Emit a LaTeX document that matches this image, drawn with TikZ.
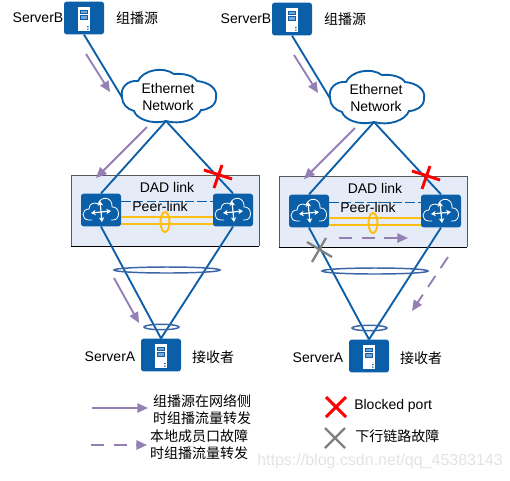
\documentclass[tikz,border=0pt]{standalone}
\usepackage{fontspec}
\setmainfont{Liberation Sans}
\newfontfamily\cjk{Noto Sans CJK SC}
\usetikzlibrary{arrows.meta}
\definecolor{hwblue}{HTML}{0A5FA8}
\definecolor{flow}{HTML}{9480B4}
\definecolor{panelfill}{HTML}{E6ECF7}
\definecolor{gold}{HTML}{FFBE14}
\definecolor{ringblue}{HTML}{3A66A8}
\definecolor{markgray}{HTML}{808080}
\definecolor{wm}{HTML}{E4E4E4}
\tikzset{
  x=0.75pt,y=-0.75pt,
  every node/.style={font=\fontsize{10.5}{12}\selectfont,text=black,inner sep=0pt},
  devbox/.style={fill=hwblue,rounded corners=2pt,minimum width=30pt,minimum height=24.5pt},
  link/.style={draw=hwblue,line width=1.4pt},
  flowline/.style={draw=flow,line width=1.4pt,-{Triangle[length=8pt,width=7pt]}},
  flowdash/.style={flowline,dash pattern=on 10pt off 7pt},
  cloudline/.style={draw=hwblue,fill=white,line width=1.4pt},
  ring/.style={draw=ringblue,line width=1.1pt},
  goldline/.style={draw=gold,line width=2.2pt},
  redmark/.style={draw=red,line width=2.2pt},
  graymark/.style={draw=markgray,line width=1.7pt},
  iconw/.style={draw=white,line width=0.6pt},
  iconarrow/.style={draw=white,line width=0.9pt,{Stealth[length=3.5pt,width=4pt]}-{Stealth[length=3.5pt,width=4pt]}},
}
\newcommand{\servericon}[1]{%
  \fill[white] ([shift={(-6,-11)}]#1.center) rectangle ([shift={(6,13)}]#1.center);
  \draw[hwblue,line width=0.6pt,fill=panelfill!50!hwblue]
    ([shift={(-3.5,-8)}]#1.center) rectangle ([shift={(3.5,-4.5)}]#1.center)
    ([shift={(-3.5,-2.5)}]#1.center) rectangle ([shift={(3.5,1)}]#1.center);
  \fill[hwblue] ([shift={(3,8)}]#1.center) rectangle ([shift={(4.5,9)}]#1.center)
    ([shift={(3,10.5)}]#1.center) rectangle ([shift={(4.5,11.5)}]#1.center);
}
\newcommand{\switchicon}[1]{%
  \begin{scope}[shift={(#1.center)}]
    \draw[iconw] (-9,10) -- (-12,10) .. controls (-20,10) and (-20,-1) .. (-12,-1)
      .. controls (-12,-7) and (-6,-8) .. (-3,-6) .. controls (0,-15) and (12,-13) .. (11,-3)
      .. controls (19,-4) and (20,10) .. (12,10) -- (10,10);
    \draw[iconarrow] (-10,3) -- (10,1);
    \draw[iconarrow] (-1,-9) -- (1,12);
  \end{scope}
}
\newcommand{\crossmark}[3]{%
  \draw[#1] ([shift={(-13,-6)}]#2) -- ([shift={(15,3)}]#2);
  \draw[#1] ([shift={(-3,12)}]#2) -- ([shift={(5,-11)}]#2);
}
\newcommand{\halfpic}{%
  \fill[panelfill] (71,175) rectangle (259,246);
  \draw[line width=0.7pt,draw=black!65] (71,246) -- (71,175) -- (259,175) -- (259,246);
  \draw[line width=0.7pt,draw=black] (71,246) -- (259,246);
  \node[devbox] (srvB) at (84,18) {};
  \node[devbox] (srvA) at (161,355) {};
  \node[devbox] (swL) at (101,210) {};
  \node[devbox] (swR) at (233,210) {};
  \coordinate (cloudW) at (123,99);
  \coordinate (cloudS) at (166,121);
  \draw[link] (srvB.south) -- (cloudW);
  \draw[link] (cloudS) -- (swL.north);
  \draw[link] (cloudS) -- (swR.north);
  \draw[link] (swL.south) -- (srvA.north);
  \draw[link] (swR.south) -- (srvA.north);
  \draw[cloudline] (122,97) .. controls (120,87) and (128,80) .. (138,81)
    .. controls (143,70) and (163,66) .. (174,74)
    .. controls (184,73) and (194,76) .. (197,81)
    .. controls (208,82) and (218,88) .. (216,98)
    .. controls (216,106) and (207,110) .. (201,110)
    .. controls (197,120) and (180,125) .. (166,121)
    .. controls (150,125) and (136,118) .. (134,111)
    .. controls (127,109) and (122,104) .. (122,97) -- cycle;
  \node[align=center] (cloudtxt) at (168,97) {Ethernet\\[1pt]Network};
  \servericon{srvB}
  \servericon{srvA}
  \switchicon{swL}
  \switchicon{swR}
  \draw[hwblue,line width=0.7pt,dash pattern=on 7pt off 2.5pt] (swL.east |- 0,201) -- (swR.west |- 0,201);
  \draw[goldline] (swL.east |- 0,217) -- (swR.west |- 0,217);
  \draw[goldline] (swL.east |- 0,224) -- (swR.west |- 0,224);
  \draw[gold,line width=1.5pt] (165,222) ellipse [x radius=4.5,y radius=10];
  \node (dad) at (167,187) {DAD link};
  \node (peer) at (160,206) {Peer-link};
  \draw[ring] (167,270) ellipse [x radius=53,y radius=3];
  \draw[ring] (161.5,327) ellipse [x radius=17.5,y radius=2.7];
  \node (srcB) at (38,18) {ServerB};
  \node (srcL) at (137,18) {\cjk 组播源};
  \node (rcvA) at (110,357) {ServerA};
  \node (rcvL) at (213,357) {\cjk 接收者};
  \coordinate (xr) at (217,176);
  \crossmark{redmark}{xr}{}
  \coordinate (f1a) at (86,54);
  \coordinate (f1b) at (110,92);
  \coordinate (f2a) at (147,127);
  \coordinate (f2b) at (96,178);
}
\begin{document}
\begin{tikzpicture}
\useasboundingbox (0,0) rectangle (510,480);
\fill[white] (0,0) rectangle (510,480);
\begin{scope}[name prefix=L-]
  \halfpic
  \draw[flowline] (f1a) -- (f1b);
  \draw[flowline] (f2a) -- (f2b);
  \coordinate (f3a) at (114,278);
  \coordinate (f3b) at (139,323);
  \draw[flowline] (f3a) -- (f3b);
\end{scope}
\begin{scope}[shift={(208,1)},name prefix=R-]
  \halfpic
  \draw[flowline] (f1a) -- (f1b);
  \draw[flowline] (f2a) -- (f2b);
  \coordinate (d1a) at (131,237);
  \coordinate (d1b) at (200,237);
  \draw[flowdash] (d1a) -- (d1b);
  \coordinate (d2a) at (240,256);
  \coordinate (d2b) at (204,310);
  \draw[flowdash] (d2a) -- (d2b);
  \coordinate (xg) at (111,248);
  \draw[graymark] ([shift={(-12,-7)}]xg) -- ([shift={(13,8)}]xg);
  \draw[graymark] ([shift={(-7,13)}]xg) -- ([shift={(7,-11)}]xg);
\end{scope}
\coordinate (la) at (92,408);
\coordinate (lb) at (148,408);
\draw[flowline] (la) -- (lb);
\coordinate (lc) at (91,445);
\coordinate (ld) at (147,445);
\draw[flowdash] (lc) -- (ld);
\node[align=center] (t1) at (202,409.5) {\cjk 组播源在网络侧\\[1pt]\cjk 时组播流量转发};
\node[align=center] (t2) at (199,444.5) {\cjk 本地成员口故障\\[1pt]\cjk 时组播流量转发};
\coordinate (m1) at (336,407);
\draw[redmark] ([shift={(-10,-10)}]m1) -- ([shift={(10,10)}]m1);
\draw[redmark] ([shift={(-10,10)}]m1) -- ([shift={(10,-10)}]m1);
\coordinate (m2) at (335,438);
\draw[graymark] ([shift={(-10,-10)}]m2) -- ([shift={(10,10)}]m2);
\draw[graymark] ([shift={(-10,10)}]m2) -- ([shift={(10,-10)}]m2);
\node[anchor=west] (t3) at (354,406) {Blocked port};
\node[anchor=west] (t4) at (355,436) {\cjk 下行链路故障};
\node[text=wm,anchor=west,font=\fontsize{12}{13}\selectfont] (wmk) at (257,461) {https://blog.csdn.net/qq\_45383143};
\end{tikzpicture}
\end{document}
